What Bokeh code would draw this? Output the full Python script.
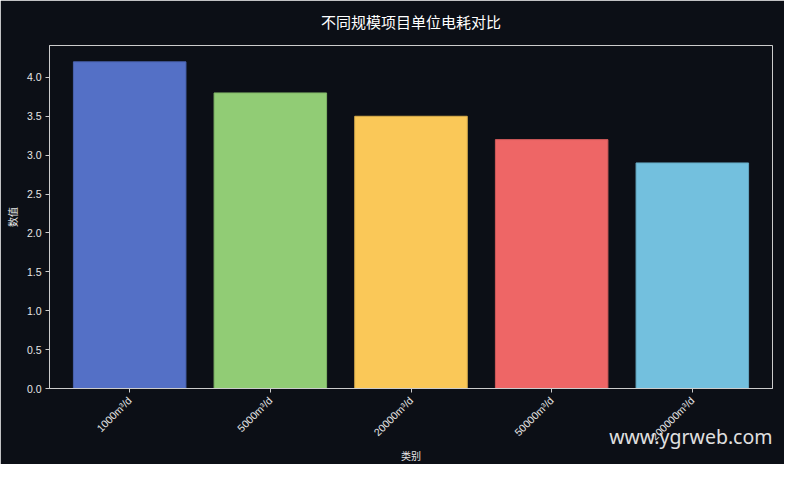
import math
from bokeh.plotting import figure
from bokeh.models import FactorRange, Range1d, FixedTicker, PrintfTickFormatter, Title, ColumnDataSource
from bokeh.embed import file_html
from bokeh.resources import INLINE

categories = ["1000m³/d", "5000m³/d", "20000m³/d", "50000m³/d", "200000m³/d"]
values = [4.2, 3.8, 3.5, 3.2, 2.9]
colors = ["#5470c6", "#91cc75", "#fac858", "#ee6666", "#73c0de"]
edges = ["#4a62ad", "#7fb466", "#d9ad4c", "#cf5959", "#64a8c2"]
y_ticks = [0.0, 0.5, 1.0, 1.5, 2.0, 2.5, 3.0, 3.5, 4.0]

BG = "#0c0f16"
FG = "#e6e6e6"
FONT = "Liberation Sans, Noto Sans CJK SC"

src = ColumnDataSource(dict(cat=categories, val=values, color=colors, edge=edges))

p = figure(width=784, height=464, output_backend="svg", toolbar_location=None,
           x_range=FactorRange(factors=categories, range_padding=0.028, range_padding_units="percent"),
           y_range=Range1d(0, max(values) * 1.05),
           min_border_left=49, min_border_right=12, min_border_top=45, min_border_bottom=76)
p.background_fill_color = BG
p.border_fill_color = BG
p.outline_line_color = "#cccccc"
p.outline_line_width = 1

p.vbar(x="cat", top="val", width=0.8, source=src, fill_color="color", line_color="edge", line_width=1)

p.title.text = "不同规模项目单位电耗对比"
p.title.align = "center"
p.title.vertical_align = "top"
p.title.text_color = "#ffffff"
p.title.text_font = FONT
p.title.text_font_size = "15px"
p.title.text_font_style = "normal"
p.title.offset = 0
p.title.standoff = 25

p.xgrid.visible = False
p.ygrid.visible = False

for ax in (p.xaxis[0], p.yaxis[0]):
    ax.axis_line_color = "#cccccc"
    ax.major_tick_line_color = "#cccccc"
    ax.minor_tick_line_color = None
    ax.major_tick_in = 0
    ax.major_tick_out = 4
    ax.major_label_text_color = FG
    ax.major_label_text_font = FONT
    ax.major_label_text_font_size = "10.5px"
    ax.axis_label_text_color = FG
    ax.axis_label_text_font = FONT
    ax.axis_label_text_font_size = "10px"
    ax.axis_label_text_font_style = "normal"

p.yaxis.ticker = FixedTicker(ticks=y_ticks)
p.yaxis.formatter = PrintfTickFormatter(format="%.1f")
p.yaxis.axis_label = "数值"
p.yaxis.major_label_standoff = 4
p.xaxis.axis_label = "类别"
p.xaxis.major_label_orientation = math.pi / 4
p.xaxis.major_label_standoff = 6
p.xaxis.axis_label_standoff = 1

wm = Title(text="www.ygrweb.com", align="right", text_color="#e0e0e0", vertical_align="top",
           text_font="Noto Sans", text_font_size="19.5px", text_font_style="normal",
           standoff=-84, offset=0)
p.add_layout(wm, "below")

open("out.html", "w").write(file_html(p, INLINE))
